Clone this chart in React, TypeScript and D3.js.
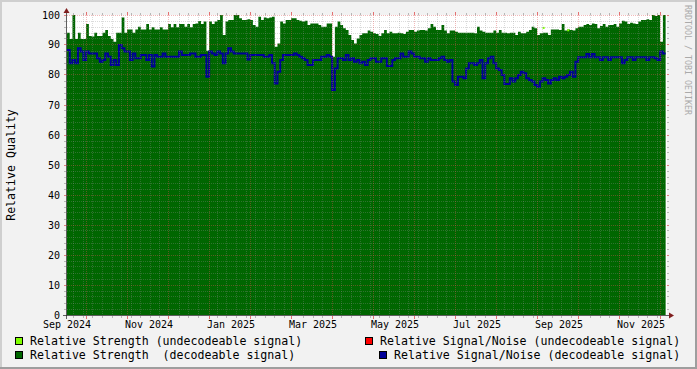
import React from 'react';
import * as d3 from 'd3';

// ---- data -------------------------------------------------------------
const START = Date.UTC(2024, 8, 15);
const END = Date.UTC(2025, 10, 28);
const STEP_DAYS = 2;

// Relative Strength (decodeable signal), one value per 2-day step
const strength = [
  94.1, 92, 100, 92, 94.1, 92, 92, 97, 93, 92.8,
  94.1, 93, 93, 94.1, 95, 93, 92, 91.1, 94.1, 94.1,
  99.2, 94.1, 95.2, 95.2, 94.1, 95.2, 96.1, 95.2, 95.2, 97,
  95.2, 95.9, 95.2, 95.2, 95.9, 95.2, 95.2, 97, 95.9, 97,
  95.9, 97, 97, 96.1, 97, 95.9, 97, 97.2, 98, 97,
  97.8, 88.1, 97.8, 97, 97.8, 98.3, 100, 93.3, 97.8, 98.3,
  98.3, 100, 100, 98.9, 98.3, 98.3, 98.6, 98.3, 96.7, 96.1,
  99.4, 98.3, 99.2, 98.9, 99.2, 99.4, 89.4, 90.5, 97.8, 97.2,
  98.3, 98.3, 98.9, 98.9, 98.3, 98.1, 97.8, 98.1, 96.7, 97.2,
  97.2, 97.2, 96.7, 96.1, 96.1, 97.2, 97.2, 86.1, 96.1, 97.8,
  96.7, 95.6, 95, 93.3, 91.7, 90.5, 92.2, 93.3, 93.9, 93.9,
  94.8, 94.4, 93.9, 93.7, 93, 93.9, 95, 93.9, 94.4, 93.9,
  93.9, 94.1, 93.9, 93.7, 94.4, 95, 95, 94.4, 94.8, 95,
  95, 94.8, 95.6, 97, 96.1, 95, 95, 96.7, 94.8, 93.9,
  94.8, 94.8, 94.4, 94.1, 94.1, 94.1, 94.1, 94.1, 94.1, 93.9,
  96.1, 94.8, 94.4, 94.1, 94.1, 94.1, 94.8, 94.1, 95, 94.1,
  94.1, 93.9, 94.1, 94.1, 93.3, 94.4, 93.9, 93.9, 94.4, 95,
  96.1, 95.6, 93.3, 93.9, 94.1, 94.1, 93.3, 95.2, 95.2, 95.2,
  95, 97, 94.8, 95.2, 95, 94.8, 95.6, 96.1, 96.1, 96.7,
  97, 96.7, 97.2, 97, 95.6, 96.3, 97, 96.1, 96.7, 96.7,
  97, 96.1, 97.2, 98.1, 97.8, 97, 97.4, 97.2, 97, 97.8,
  98.3, 98.3, 98.6, 98.3, 100, 99.7, 100, 91.1, 100,
];

// Relative Signal/Noise (decodeable signal)
const snr = [
  88.3, 83.9, 85, 83.9, 88.9, 87.8, 85, 87.8, 87.2, 87.2,
  87.2, 85.6, 84.4, 85, 87.2, 86.1, 83.3, 85, 83.3, 90,
  88.9, 87.8, 87.8, 85, 87.2, 85.6, 85.6, 86.7, 86.7, 85,
  86.7, 82.8, 86.7, 86.1, 86.1, 87.2, 86.1, 86.1, 86.1, 86.1,
  86.1, 87.8, 86.7, 86.7, 86.7, 87.2, 87.2, 86.1, 86.1, 86.7,
  86.7, 79.4, 87.8, 87.2, 86.7, 87.8, 87.2, 83.9, 87.2, 88.9,
  87.8, 87.2, 87.2, 87.2, 87.2, 87.2, 85.2, 86.7, 86.7, 86.7,
  86.7, 86.7, 86.1, 86.1, 86.7, 83.9, 77.2, 81.1, 85, 86.7,
  86.7, 86.7, 86.7, 87.2, 86.7, 86.1, 85.6, 85, 83.3, 83.3,
  85, 85, 85, 86.1, 86.1, 86.7, 86.1, 75, 82.2, 85.6,
  85.6, 85, 86.7, 85, 85.6, 84.4, 85, 83.9, 84.4, 83.3,
  85, 85.6, 85.6, 84.4, 84.4, 85.6, 85.6, 83, 83, 85,
  85.6, 85.6, 87.2, 86.1, 86.1, 87.8, 87.2, 86.1, 86.1, 85.6,
  85.6, 84.4, 85.6, 85, 85, 85, 85.6, 86.1, 85, 84.4,
  85, 77.8, 76.7, 79.4, 79.4, 78.9, 82.2, 83.9, 83.9, 83.3,
  83.9, 85, 78.9, 83.9, 85.6, 86.1, 83.9, 82.2, 81.7, 80,
  77, 77, 78.9, 77.8, 78.9, 80, 81.1, 80.6, 78.9, 78.3,
  77.8, 76.7, 76.1, 77.8, 78.9, 78.3, 77.2, 78.3, 78.9, 78.3,
  79.4, 78.9, 79.4, 80, 81.1, 79.4, 84.4, 85.9, 85.9, 85.9,
  87, 85.9, 87, 85.9, 85.9, 85, 85.9, 85.9, 85, 85.9,
  85.9, 85.9, 85.9, 83.9, 85, 85.9, 85.9, 85, 85.9, 85.9,
  85.9, 85.9, 85, 85.9, 85.9, 85.6, 85, 87.8, 87.2,
];

// Relative Strength (undecodeable signal): only a couple of known samples
const undecodeableStrengthIdx = [174, 183];
const undecodeableStrength = [95.7, 94.9];

const yTicks = [0, 10, 20, 30, 40, 50, 60, 70, 80, 90, 100];
const labelDates = [
  '2024-09-15', '2024-11-14', '2025-01-13', '2025-03-14',
  '2025-05-13', '2025-07-12', '2025-09-10', '2025-11-09',
];
const majorGridDates = [
  '2024-09-29', '2024-10-29', '2024-11-28', '2024-12-28', '2025-01-27',
  '2025-02-26', '2025-03-28', '2025-04-27', '2025-05-27', '2025-06-26',
  '2025-07-26', '2025-08-25', '2025-09-24', '2025-10-24', '2025-11-23',
];

const legendLeft = [
  { label: 'Relative Strength (undecodeable signal)', color: '#80FF00' },
  { label: 'Relative Strength  (decodeable signal)', color: '#006600' },
];
const legendRight = [
  { label: 'Relative Signal/Noise (undecodeable signal)', color: '#FF0000' },
  { label: 'Relative Signal/Noise (decodeable signal)', color: '#000099' },
];

// ---- chart ------------------------------------------------------------
const W = 697;
const H = 369;
const PL = 67, PR = 667, PT = 15, PB = 315;
const DAY = 86400000;
const FONT = '"DejaVu Sans Mono", monospace';

const MINOR = '#8F8F8F';
const MAJOR = '#DE4F4F';

export default function App() {
  const x = d3.scaleUtc().domain([new Date(START), new Date(END)]).range([PL, PR]);
  const y = d3.scaleLinear().domain([0, 100]).range([PB, PT]);

  const dateAt = (i: number) => new Date(START + i * STEP_DAYS * DAY);
  const stepPts = (vals: number[]) => {
    const pts: [Date, number][] = vals.map((v, i) => [dateAt(i), v]);
    pts.push([dateAt(vals.length), vals[vals.length - 1]]);
    return pts;
  };

  const area = d3.area<[Date, number]>()
    .x(d => x(d[0]))
    .y0(y(0))
    .y1(d => y(d[1]))
    .curve(d3.curveStepAfter);
  const line = d3.line<[Date, number]>()
    .x(d => x(d[0]))
    .y(d => y(d[1]))
    .curve(d3.curveStepAfter);

  const majorX = majorGridDates.map(s => new Date(s + 'T12:00:00Z'));
  const minorX = d3.utcFriday
    .range(new Date(START), new Date(END))
    .filter(d => majorX.every(m => Math.abs(x(m) - x(d)) > 3));
  const minorY = d3.range(2, 100, 2).filter(v => v % 10 !== 0);

  const snapX = (v: number) => Math.floor(v) + 0.5;
  const snapY = (v: number) => Math.floor(v) + 0.5;
  const fmt = d3.utcFormat('%b %Y');

  return (
    <svg
      width={W}
      height={H}
      style={{ position: 'absolute', left: 0, top: 0, display: 'block' }}
      fontFamily={FONT}
    >
      {/* background & 3D border */}
      <rect x={0} y={0} width={W} height={H} fill="#F2F2F2" />
      <rect x={0} y={0} width={W} height={2} fill="#CFCFCF" />
      <rect x={0} y={0} width={2} height={H} fill="#CFCFCF" />
      <rect x={0} y={H - 2} width={W} height={2} fill="#9E9E9E" />
      <rect x={W - 2} y={0} width={2} height={H} fill="#9E9E9E" />

      {/* canvas */}
      <rect x={PL} y={PT} width={PR - PL} height={PB - PT} fill="#FFFFFF" />

      {/* data */}
      <path d={area(stepPts(strength)) || ''} fill="#006600" />
      <path
        d={line(stepPts(snr)) || ''}
        fill="none"
        stroke="#000099"
        strokeWidth={2}
        strokeLinejoin="miter"
      />
      {undecodeableStrengthIdx.map((idx, k) => (
        <rect
          key={'u' + k}
          x={x(dateAt(idx))}
          y={y(undecodeableStrength[k]) - 1}
          width={2}
          height={2}
          fill="#80FF00"
        />
      ))}

      {/* minor grid */}
      <g stroke={MINOR} strokeOpacity={0.32} strokeWidth={1} shapeRendering="crispEdges">
        {minorY.map(v => (
          <g key={'my' + v}>
            <line x1={PL} x2={PR} y1={snapY(y(v))} y2={snapY(y(v))} strokeDasharray="1 1" />
            <line x1={PL - 3} x2={PL - 1} y1={snapY(y(v))} y2={snapY(y(v))} strokeOpacity={0.6} />
            <line x1={PR} x2={PR + 2} y1={snapY(y(v))} y2={snapY(y(v))} strokeOpacity={0.6} />
          </g>
        ))}
        {minorX.map((d, i) => (
          <g key={'mx' + i}>
            <line x1={snapX(x(d))} x2={snapX(x(d))} y1={PT} y2={PB} strokeDasharray="1 1" />
            <line x1={snapX(x(d))} x2={snapX(x(d))} y1={PB + 1} y2={PB + 3} strokeOpacity={0.6} />
            <line x1={snapX(x(d))} x2={snapX(x(d))} y1={PT - 2} y2={PT} strokeOpacity={0.6} />
          </g>
        ))}
      </g>

      {/* major grid */}
      <g stroke={MAJOR} strokeOpacity={0.4} strokeWidth={1} shapeRendering="crispEdges">
        {yTicks.filter(v => v > 0).map(v => (
          <g key={'My' + v}>
            <line x1={PL} x2={PR} y1={snapY(y(v))} y2={snapY(y(v))} strokeDasharray="1 1" />
            <line x1={PL - 3} x2={PL - 1} y1={snapY(y(v))} y2={snapY(y(v))} strokeOpacity={0.7} />
            <line x1={PR} x2={PR + 2} y1={snapY(y(v))} y2={snapY(y(v))} strokeOpacity={0.7} />
          </g>
        ))}
        {majorX.map((d, i) => (
          <g key={'Mx' + i}>
            <line x1={snapX(x(d))} x2={snapX(x(d))} y1={PT} y2={PB} strokeDasharray="1 1" />
            <line x1={snapX(x(d))} x2={snapX(x(d))} y1={PB + 1} y2={PB + 4} strokeOpacity={0.8} />
            <line x1={snapX(x(d))} x2={snapX(x(d))} y1={PT - 3} y2={PT} strokeOpacity={0.8} />
          </g>
        ))}
      </g>

      {/* axes */}
      <g stroke="#1F1F1F" strokeOpacity={0.7} strokeWidth={1} shapeRendering="crispEdges">
        <line x1={PL - 4} x2={PR + 4} y1={PB + 0.5} y2={PB + 0.5} />
        <line x1={PL - 0.5} x2={PL - 0.5} y1={PB + 4} y2={PT - 4} />
      </g>
      <polygon
        points={`${PR + 2},${PB + 0.5 - 3} ${PR + 2},${PB + 0.5 + 3} ${PR + 7},${PB + 0.5}`}
        fill="#801F1F"
      />
      <polygon
        points={`${PL - 0.5 - 3},${PT - 2} ${PL - 0.5 + 3},${PT - 2} ${PL - 0.5},${PT - 7}`}
        fill="#801F1F"
      />

      {/* y tick labels */}
      <g fontSize={10} fill="#000" textAnchor="end">
        {yTicks.map(v => (
          <text key={'yl' + v} x={60} y={snapY(y(v)) + 3.6}>
            {v}
          </text>
        ))}
      </g>

      {/* x tick labels */}
      <g fontSize={10} fill="#000" textAnchor="middle">
        {labelDates.map(s => {
          const d = new Date(s + 'T00:00:00Z');
          return (
            <text key={s} x={x(d)} y={328}>
              {fmt(d)}
            </text>
          );
        })}
      </g>

      {/* vertical axis title */}
      <text
        transform={`translate(15,${(PT + PB) / 2}) rotate(-90)`}
        textAnchor="middle"
        fontSize={11.6}
        fill="#000"
      >
        Relative Quality
      </text>

      {/* watermark */}
      <text
        transform="translate(684.5,5) rotate(90)"
        fontSize={8.3}
        fill="#AAAAAA"
      >
        RRDTOOL / TOBI OETIKER
      </text>

      {/* legend */}
      <g fontSize={11.6} fill="#000">
        {legendLeft.map((l, i) => (
          <g key={'ll' + i}>
            <rect x={15.5} y={337.5 + i * 14} width={7} height={7} fill={l.color} stroke="#000" strokeWidth={1} />
            <text x={30} y={345 + i * 14} style={{ whiteSpace: 'pre' }}>
              {l.label}
            </text>
          </g>
        ))}
        {legendRight.map((l, i) => (
          <g key={'lr' + i}>
            <rect x={365.5 + i * 14} y={337.5 + i * 14} width={7} height={7} fill={l.color} stroke="#000" strokeWidth={1} />
            <text x={380 + i * 14} y={345 + i * 14} style={{ whiteSpace: 'pre' }}>
              {l.label}
            </text>
          </g>
        ))}
      </g>
    </svg>
  );
}
